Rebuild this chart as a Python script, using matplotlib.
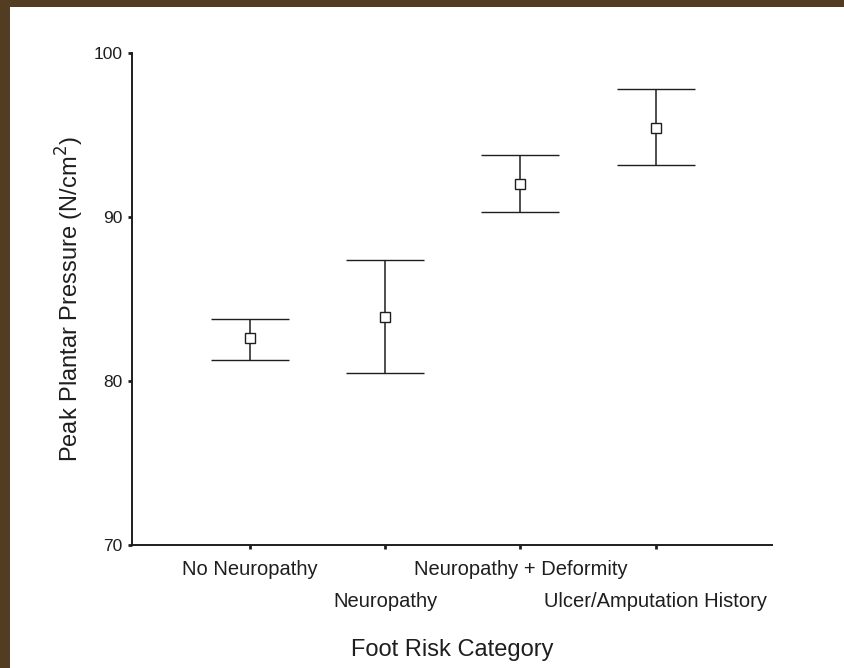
import matplotlib.pyplot as plt
from matplotlib.patches import Rectangle

plt.rcParams['font.family'] = ['Liberation Sans', 'DejaVu Sans']

categories = ['No Neuropathy', 'Neuropathy', 'Neuropathy + Deformity',
              'Ulcer/Amputation History']
means = [82.6, 83.9, 92.0, 95.4]
lower = [81.3, 80.5, 90.3, 93.2]
upper = [83.8, 87.4, 93.8, 97.8]
yticks = [70, 80, 90, 100]

ink = '#1e1e1e'

fig = plt.figure(figsize=(8.45, 6.68), dpi=100)
fig.patches.append(Rectangle((0, 0), 1, 1, transform=fig.transFigure,
                             facecolor='white', zorder=-2))
# brown frame (top and left edges only)
fig.patches.append(Rectangle((0, 1 - 7 / 668), 1, 7 / 668, transform=fig.transFigure,
                             facecolor='#523c22', edgecolor='none'))
fig.patches.append(Rectangle((0, 0), 10 / 845, 1, transform=fig.transFigure,
                             facecolor='#523c22', edgecolor='none'))

ax = fig.add_axes([132 / 845, 1 - 545 / 668, 640 / 845, 492 / 668])

x = list(range(1, len(categories) + 1))
yerr = [[m - lo for m, lo in zip(means, lower)],
        [hi - m for m, hi in zip(means, upper)]]
ax.errorbar(x, means, yerr=yerr, fmt='s', mfc='white', mec=ink, mew=1.0,
            ms=7, ecolor=ink, elinewidth=1.1, capsize=28, capthick=1.3,
            zorder=3)

ax.set_ylim(70, 100)
ax.set_xlim(0.13, 4.86)
ax.set_yticks(yticks)
ax.set_yticklabels([str(v) for v in yticks], fontsize=12.5, color=ink)
ax.set_xticks(x)
ax.set_xticklabels(categories, fontsize=14.5, color=ink)

for side in ['top', 'right']:
    ax.spines[side].set_visible(False)
for side in ['left', 'bottom']:
    ax.spines[side].set_linewidth(1.4)
    ax.spines[side].set_color(ink)
ax.tick_params(axis='both', direction='out', length=3, width=2, color=ink)
ax.tick_params(axis='y', pad=4)

# staggered category labels: every second one drops to a lower row
for i, tick in enumerate(ax.xaxis.get_major_ticks()):
    tick.set_pad(8 if i % 2 == 0 else 31)

ax.set_ylabel('Peak Plantar Pressure (N/cm$^2$)', fontsize=17, color=ink, labelpad=5)
ax.set_xlabel('Foot Risk Category', fontsize=17, color=ink, labelpad=20)

fig.savefig('out.png', dpi=100)
